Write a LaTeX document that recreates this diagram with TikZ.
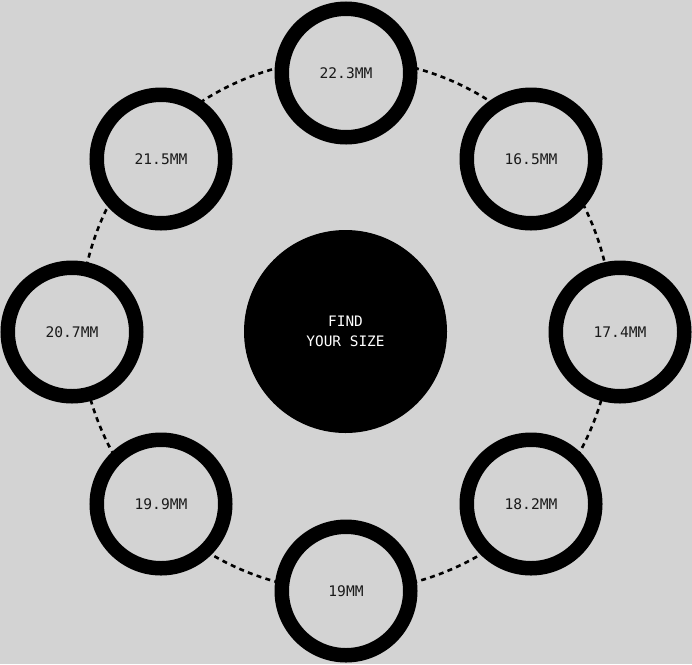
\documentclass[tikz,border=0pt]{standalone}
\usepackage{fontspec}
\setmonofont{DejaVu Sans Mono}
\definecolor{bg}{HTML}{D3D3D3}
\definecolor{ink}{HTML}{1A1A1A}
\begin{document}
\begin{tikzpicture}[x=1pt,y=-1pt,
  ring/.style={circle, draw=black, line width=14.5pt, fill=bg, minimum size=128.5pt, inner sep=0pt,
    font=\fontsize{14.6}{18}\ttfamily, text=ink},
  hub/.style={circle, fill=black, minimum size=203pt, inner sep=0pt, align=center,
    font=\fontsize{14.4}{19.5}\ttfamily, text=white},
  track/.style={circle, draw=black, line width=2.6pt, dash pattern=on 5pt off 4.3pt, minimum size=532pt, inner sep=0pt}]
\useasboundingbox[fill=bg] (0,0) rectangle (692,664);
\node[track] (trk) at (346,325) {};
\node[ring] (r1) at (346,73) {22.3MM};
\node[ring] (r2) at (531,159) {16.5MM};
\node[ring] (r3) at (620,332) {17.4MM};
\node[ring] (r4) at (531,504) {18.2MM};
\node[ring] (r5) at (346,591) {19MM};
\node[ring] (r6) at (161,504) {19.9MM};
\node[ring] (r7) at (72,332) {20.7MM};
\node[ring] (r8) at (161,159) {21.5MM};
\node[hub] (c) at (345.5,331.5) {FIND\\YOUR SIZE};
\end{tikzpicture}
\end{document}
